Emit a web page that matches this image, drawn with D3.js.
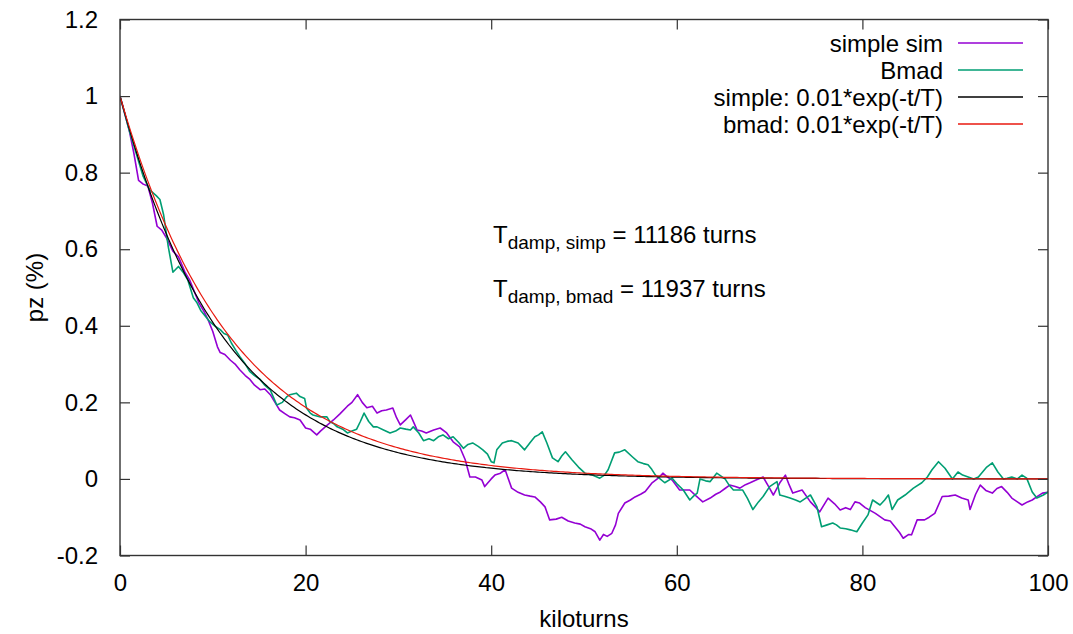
<!DOCTYPE html>
<html>
<head>
<meta charset="utf-8">
<script src="https://cdn.jsdelivr.net/npm/d3@7"></script>
<style>
  html, body { margin: 0; padding: 0; background: #fff; }
  svg text { font-family: "Liberation Sans", Arial, sans-serif; fill: #000; }
</style>
</head>
<body>
<svg id="chart" width="1073" height="634"></svg>
<script>
// Polarization (pz, %) versus kiloturns: two tracking runs and their exponential damping fits.

// simple sim: [kiloturns, pz %]
const simpleKt = [0,0.5,1,1.5,2,2.5,3,3.5,4,4.5,5,5.7,6.3,7,7.5,8,8.5,9,9.5,10,10.5,10.8,11.3,11.9,12.4,12.9,13.5,14,14.5,15.1,15.6,16.2,16.7,17.2,17.8,18.3,18.8,19.4,20,20.5,21.2,21.6,22.3,23,23.7,24.5,25,25.6,26.1,26.6,27.2,27.7,28.2,28.7,29.4,29.8,30.2,30.8,31.3,31.7,32,32.5,33,33.8,34.5,35.2,35.9,36.6,37.2,37.7,38.3,39,39.3,40,40.4,41,41.5,42.2,42.9,43.6,44.2,44.7,45.3,45.8,46.3,47,47.6,48.3,49,49.6,50.1,50.7,51.2,51.7,52.1,52.5,53,53.4,53.7,54.4,55,55.5,56.1,56.6,57.3,58,58.5,59,59.5,60.3,61.4,62.1,62.8,63.6,64.2,64.7,65.2,65.7,66.3,66.8,67.4,67.9,68.6,69.3,69.9,70.4,71.1,71.7,72.1,72.5,73.5,74.4,75,75.4,76.3,77,77.6,78.2,78.7,79.2,79.7,80.3,81.4,82.4,83,83.5,84,84.4,85,85.3,85.9,86.7,87.2,87.8,88.6,89.3,90,90.7,91.4,91.6,92.2,92.7,93.3,94,94.5,95,95.6,96.1,96.7,97.2,97.8,98.3,98.9,99.4,100];
const simplePz = [1.0,0.955,0.91,0.85,0.78,0.77,0.765,0.72,0.66,0.65,0.63,0.595,0.58,0.54,0.52,0.49,0.46,0.44,0.415,0.385,0.345,0.33,0.325,0.31,0.30,0.285,0.27,0.26,0.245,0.233,0.235,0.22,0.2,0.18,0.17,0.162,0.16,0.154,0.133,0.13,0.115,0.125,0.14,0.154,0.17,0.19,0.2,0.22,0.2,0.186,0.19,0.172,0.178,0.18,0.185,0.16,0.141,0.155,0.167,0.145,0.128,0.125,0.12,0.128,0.133,0.12,0.097,0.084,0.05,0.005,0.005,-0.003,-0.02,0.0,0.01,0.015,0.024,-0.024,-0.035,-0.042,-0.045,-0.047,-0.06,-0.073,-0.107,-0.105,-0.10,-0.11,-0.115,-0.118,-0.125,-0.13,-0.138,-0.16,-0.145,-0.15,-0.142,-0.12,-0.09,-0.063,-0.055,-0.047,-0.04,-0.033,-0.011,0.002,0.015,0.005,-0.003,-0.029,-0.029,-0.045,-0.06,-0.05,-0.04,-0.034,-0.025,-0.016,-0.02,-0.024,-0.015,-0.01,-0.002,0.005,-0.02,-0.042,-0.01,0.01,-0.015,-0.037,-0.029,-0.06,-0.075,-0.086,-0.05,-0.065,-0.081,-0.075,-0.08,-0.06,-0.063,-0.075,-0.09,-0.107,-0.11,-0.125,-0.14,-0.155,-0.145,-0.146,-0.107,-0.107,-0.1,-0.09,-0.046,-0.045,-0.042,-0.05,-0.055,-0.08,-0.04,-0.016,-0.03,-0.037,-0.025,-0.02,-0.035,-0.05,-0.06,-0.068,-0.06,-0.055,-0.045,-0.037,-0.035];

// Bmad: [kiloturns, pz %]
const bmadKt = [0,0.5,1,1.5,2,2.5,3.2,3.9,4.3,4.7,5.2,5.7,6.3,6.8,7.3,7.9,8.3,8.7,9.2,9.7,10.2,10.8,11.2,11.6,12,12.5,12.9,13.5,14,14.5,15.1,15.6,16.2,16.9,17.5,18,18.3,19,19.4,19.9,20.1,20.5,20.8,21.6,22.3,22.6,23,23.4,24,24.5,25,25.5,25.9,26.3,26.8,27.3,27.7,28.4,29.1,29.7,30.2,30.8,31.3,31.6,32.2,32.7,33.3,33.8,34.3,34.8,35.4,35.9,36.5,37,37.5,38,38.6,39.1,39.6,40,40.3,40.6,41.2,41.7,42.2,42.9,43.6,44.2,44.7,45.1,45.5,46,46.6,47.2,47.6,48,48.7,49.4,50.1,50.9,51.7,52.2,52.6,53.3,53.8,54.4,55.2,55.8,56.4,56.9,57.3,57.7,58.2,58.7,59.5,60.1,60.7,61.4,61.8,62.2,62.5,63.1,63.6,64.3,65.2,65.6,66.1,67.1,67.6,68.2,68.8,69.3,70,70.8,71.1,71.6,72.2,72.8,73.3,73.9,74.4,75.1,75.6,76.2,76.8,77.2,77.6,78.2,78.7,79.4,80,80.6,81.1,81.9,82.4,82.8,83.2,83.8,84.6,85.5,86.4,87,87.5,88.2,88.9,89.7,90.3,90.8,91.4,92,92.5,93.4,94,94.6,95.2,95.6,96.1,96.7,97.2,97.7,98.3,98.8,99.5,100];
const bmadPz = [1.0,0.955,0.91,0.87,0.83,0.79,0.755,0.74,0.73,0.69,0.607,0.54,0.555,0.54,0.52,0.473,0.46,0.44,0.425,0.41,0.40,0.39,0.38,0.376,0.355,0.335,0.32,0.30,0.28,0.27,0.26,0.245,0.232,0.193,0.2,0.215,0.22,0.224,0.215,0.21,0.185,0.172,0.167,0.162,0.162,0.15,0.145,0.136,0.13,0.12,0.125,0.13,0.15,0.172,0.15,0.136,0.136,0.128,0.12,0.125,0.133,0.13,0.128,0.136,0.12,0.10,0.105,0.10,0.11,0.115,0.105,0.11,0.095,0.08,0.09,0.094,0.085,0.076,0.065,0.045,0.042,0.076,0.094,0.098,0.1,0.094,0.076,0.095,0.11,0.115,0.123,0.094,0.055,0.045,0.06,0.071,0.05,0.031,0.015,0.01,0.002,0.01,0.024,0.068,0.07,0.076,0.058,0.045,0.04,0.037,0.025,0.01,0.0,-0.01,0.002,-0.015,-0.029,-0.055,-0.045,-0.037,0.0,-0.005,-0.007,0.015,0.0,-0.015,-0.029,-0.029,-0.05,-0.08,-0.06,-0.046,-0.02,-0.007,-0.042,-0.045,-0.05,-0.055,-0.06,-0.05,-0.042,-0.073,-0.125,-0.12,-0.115,-0.12,-0.128,-0.13,-0.133,-0.138,-0.115,-0.094,-0.055,-0.068,-0.055,-0.042,-0.08,-0.055,-0.042,-0.024,-0.01,0.005,0.024,0.045,0.028,0.0,0.018,0.01,0.005,0.0,0.005,0.031,0.042,0.018,0.0,0.002,0.005,0.0,0.01,0.002,-0.034,-0.05,-0.042,-0.034];

// Fitted damping times (turns) of pz = 0.01*exp(-t/T), shown in percent
const tDampSimple = 11186;
const tDampBmad = 11937;

const xTicks = [0, 20, 40, 60, 80, 100];
const yTicks = [-0.2, 0, 0.2, 0.4, 0.6, 0.8, 1, 1.2];
const yTickLabels = ["-0.2", "0", "0.2", "0.4", "0.6", "0.8", "1", "1.2"];

const legendLabels = ["simple sim", "Bmad", "simple: 0.01*exp(-t/T)", "bmad: 0.01*exp(-t/T)"];
const seriesColors = ["#9400d3", "#009e73", "#000000", "#e8190f"];

const svg = d3.select("#chart");
const margin = { left: 120, right: 1048, top: 19.5, bottom: 555.5 };

const x = d3.scaleLinear().domain([0, 100]).range([margin.left, margin.right]);
const y = d3.scaleLinear().domain([-0.2, 1.2]).range([margin.bottom, margin.top]);

svg.append("defs").append("clipPath").attr("id", "plotclip")
  .append("rect")
  .attr("x", margin.left).attr("y", margin.top)
  .attr("width", margin.right - margin.left)
  .attr("height", margin.bottom - margin.top);

const line = d3.line().x(d => x(d[0])).y(d => y(d[1]));

const simpleData = simpleKt.map((k, i) => [k, simplePz[i]]);
const bmadData = bmadKt.map((k, i) => [k, bmadPz[i]]);

// exponential fit curves evaluated from the stated damping times
const fitKt = d3.range(0, 100.001, 0.25);
const fitCurve = T => fitKt.map(k => [k, 100 * 0.01 * Math.exp(-(k * 1000) / T)]);

const plot = svg.append("g").attr("clip-path", "url(#plotclip)");
plot.append("path").datum(simpleData).attr("d", line)
  .attr("fill", "none").attr("stroke", seriesColors[0]).attr("stroke-width", 1.6).attr("stroke-linejoin", "round");
plot.append("path").datum(bmadData).attr("d", line)
  .attr("fill", "none").attr("stroke", seriesColors[1]).attr("stroke-width", 1.6).attr("stroke-linejoin", "round");
plot.append("path").datum(fitCurve(tDampSimple)).attr("d", line)
  .attr("fill", "none").attr("stroke", seriesColors[2]).attr("stroke-width", 1.2);
plot.append("path").datum(fitCurve(tDampBmad)).attr("d", line)
  .attr("fill", "none").attr("stroke", seriesColors[3]).attr("stroke-width", 1.2);

// axes with inward ticks, mirrored on top and right
const frameColor = "#333";
const fontSize = 24;

const axBottom = svg.append("g").attr("transform", `translate(0,${margin.bottom})`)
  .call(d3.axisBottom(x).tickValues(xTicks).tickSize(-10).tickPadding(18).tickFormat(d3.format("d")));
const axTop = svg.append("g").attr("transform", `translate(0,${margin.top})`)
  .call(d3.axisTop(x).tickValues(xTicks).tickSize(-10).tickFormat(""));
const axLeft = svg.append("g").attr("transform", `translate(${margin.left},0)`)
  .call(d3.axisLeft(y).tickValues(yTicks).tickSize(-10).tickPadding(22)
    .tickFormat((d, i) => yTickLabels[i]));
const axRight = svg.append("g").attr("transform", `translate(${margin.right},0)`)
  .call(d3.axisRight(y).tickValues(yTicks).tickSize(-10).tickFormat(""));

[axBottom, axTop, axLeft, axRight].forEach(g => {
  g.select(".domain").remove();
  g.selectAll(".tick line").attr("stroke", frameColor).attr("stroke-width", 1.2);
  g.selectAll("text").attr("font-size", fontSize).attr("font-family", "Liberation Sans, Arial, sans-serif").attr("fill", "#000");
});
svg.append("rect")
  .attr("x", margin.left).attr("y", margin.top)
  .attr("width", margin.right - margin.left).attr("height", margin.bottom - margin.top)
  .attr("fill", "none").attr("stroke", frameColor).attr("stroke-width", 1.4);

// axis titles
svg.append("text").attr("x", (margin.left + margin.right) / 2).attr("y", 627)
  .attr("text-anchor", "middle").attr("font-size", fontSize).text("kiloturns");
svg.append("text").attr("transform", `translate(43,${(margin.top + margin.bottom) / 2}) rotate(-90)`)
  .attr("text-anchor", "middle").attr("font-size", fontSize).text("pz (%)");

// legend
const legend = svg.append("g");
legendLabels.forEach((lab, i) => {
  const ly = 43 + i * 27;
  legend.append("text").attr("x", 943).attr("y", ly + 8.5)
    .attr("text-anchor", "end").attr("font-size", fontSize).text(lab);
  legend.append("line").attr("x1", 958).attr("x2", 1023).attr("y1", ly).attr("y2", ly)
    .attr("stroke", seriesColors[i]).attr("stroke-width", 1.3);
});

// damping time annotations
const notes = [
  { sub: "damp, simp", val: tDampSimple, y: 243 },
  { sub: "damp, bmad", val: tDampBmad, y: 297 }
];
notes.forEach(n => {
  const t = svg.append("text").attr("x", 493).attr("y", n.y).attr("font-size", fontSize);
  t.append("tspan").text("T");
  t.append("tspan").attr("font-size", 19).attr("dy", 6).text(n.sub);
  t.append("tspan").attr("dy", -6).text(` = ${n.val} turns`);
});
</script>
</body>
</html>
